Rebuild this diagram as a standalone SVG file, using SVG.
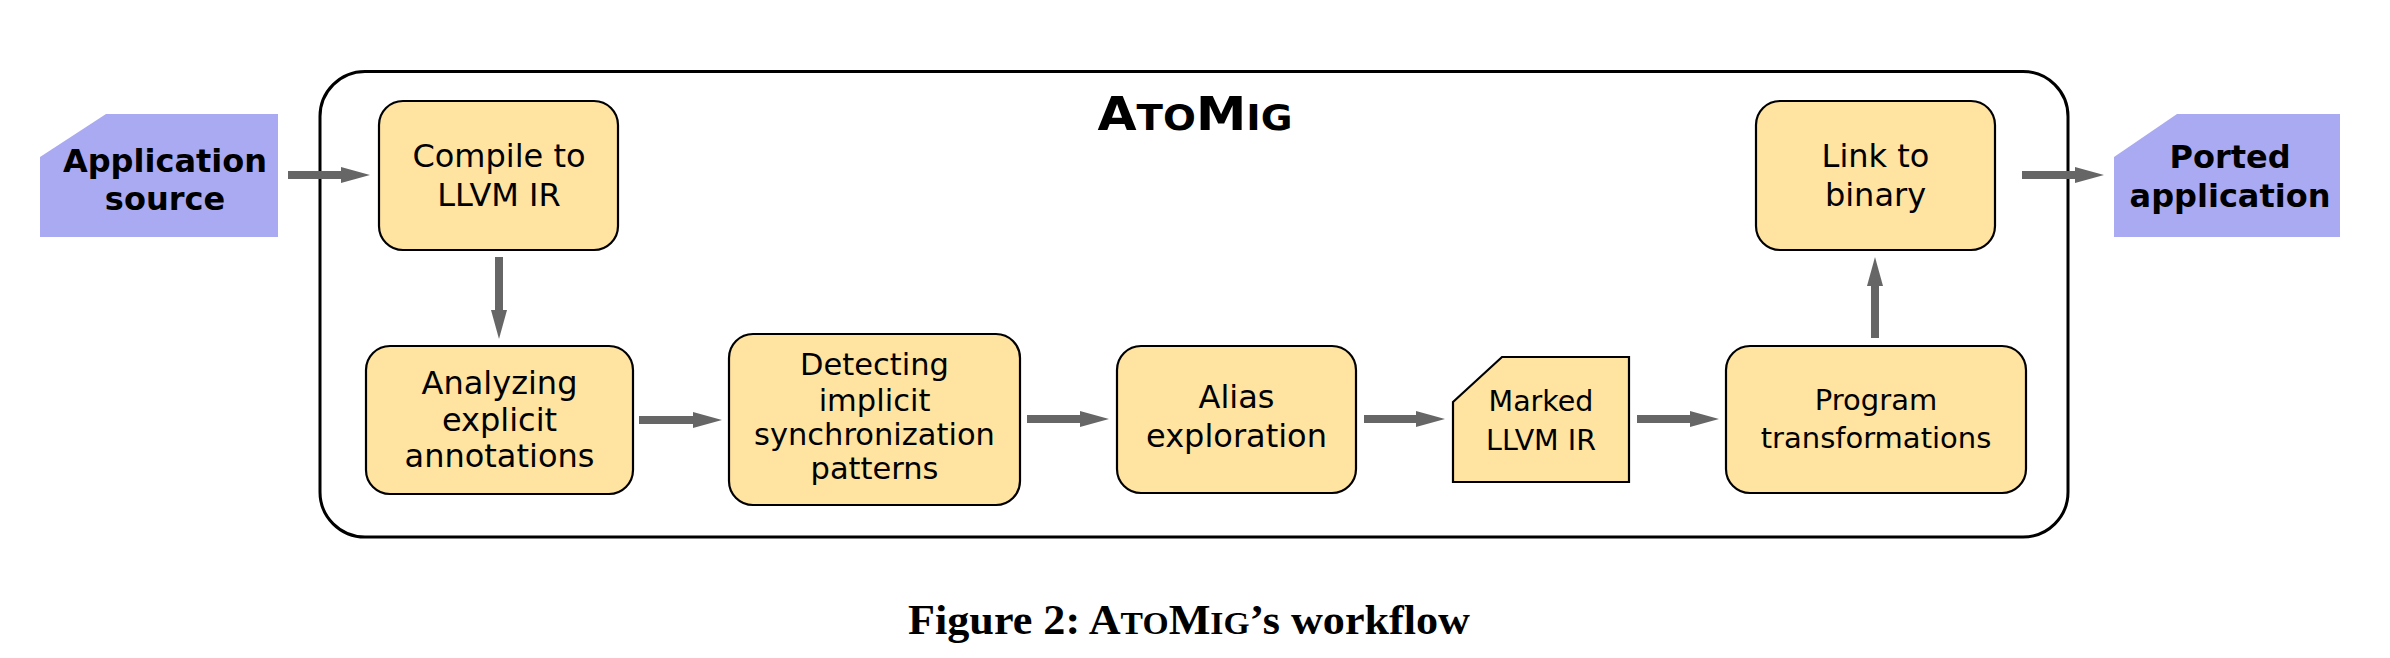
<svg xmlns="http://www.w3.org/2000/svg" width="2390" height="658" viewBox="0 0 2390 658">
<style>
  .box { fill: #FFE3A1; stroke: #000; stroke-width: 2.2; }
  .io { fill: #AAAAF2; stroke: none; }
  .t { font-family: "DejaVu Sans", "Liberation Sans", sans-serif; fill: #000; text-anchor: middle; }
  .tb { font-family: "DejaVu Sans", "Liberation Sans", sans-serif; font-weight: bold; fill: #000; text-anchor: middle; }
  .conn { stroke: #666; stroke-width: 8; fill: none; marker-end: url(#head); }
</style>
<defs>
  <marker id="head" markerUnits="userSpaceOnUse" markerWidth="30" markerHeight="18" refX="0" refY="8" orient="auto">
    <path d="M0,0 L29,8 L0,16 Z" fill="#666"/>
  </marker>
</defs>
<rect width="2390" height="658" fill="#fff"/>

<g id="container">
  <rect x="320" y="71.5" width="1748" height="465.5" rx="45" ry="45" fill="none" stroke="#000" stroke-width="3"/>
  <text class="tb" x="1195" y="130" font-size="47" textLength="195" lengthAdjust="spacingAndGlyphs">A<tspan font-size="36">TO</tspan>M<tspan font-size="36">IG</tspan></text>
</g>

<g id="connectors">
  <path class="conn" d="M288,175 L341,175"/>
  <path class="conn" d="M499,257 L499,310"/>
  <path class="conn" d="M639,420 L693,420"/>
  <path class="conn" d="M1027,419 L1080,419"/>
  <path class="conn" d="M1364,419 L1416,419"/>
  <path class="conn" d="M1637,419 L1690,419"/>
  <path class="conn" d="M1875,338 L1875,286"/>
  <path class="conn" d="M2022,175 L2075,175"/>
</g>

<g id="app-source">
  <polygon class="io" points="40,157 106,114 278,114 278,237 40,237"/>
  <text class="tb" font-size="32"><tspan x="165" y="172">Application</tspan><tspan x="165" y="210">source</tspan></text>
</g>

<g id="compile">
  <rect class="box" x="379" y="101" width="239" height="149" rx="24"/>
  <text class="t" font-size="32"><tspan x="499" y="167">Compile to</tspan><tspan x="499" y="206">LLVM IR</tspan></text>
</g>

<g id="analyzing">
  <rect class="box" x="366" y="346" width="267" height="148" rx="24"/>
  <text class="t" font-size="32"><tspan x="499.5" y="394">Analyzing</tspan><tspan x="499.5" y="431">explicit</tspan><tspan x="499.5" y="467">annotations</tspan></text>
</g>

<g id="detecting">
  <rect class="box" x="729" y="334" width="291" height="171" rx="24"/>
  <text class="t" font-size="30.5"><tspan x="874.5" y="375">Detecting</tspan><tspan x="874.5" y="411">implicit</tspan><tspan x="874.5" y="445">synchronization</tspan><tspan x="874.5" y="479">patterns</tspan></text>
</g>

<g id="alias">
  <rect class="box" x="1117" y="346" width="239" height="147" rx="24"/>
  <text class="t" font-size="32"><tspan x="1236.5" y="408">Alias</tspan><tspan x="1236.5" y="447">exploration</tspan></text>
</g>

<g id="marked">
  <polygon class="box" points="1453,402 1502,357 1629,357 1629,482 1453,482"/>
  <text class="t" font-size="28.5"><tspan x="1541" y="411">Marked</tspan><tspan x="1541" y="450">LLVM IR</tspan></text>
</g>

<g id="program">
  <rect class="box" x="1726" y="346" width="300" height="147" rx="24"/>
  <text class="t" font-size="29"><tspan x="1876" y="410">Program</tspan><tspan x="1876" y="448">transformations</tspan></text>
</g>

<g id="link">
  <rect class="box" x="1756" y="101" width="239" height="149" rx="24"/>
  <text class="t" font-size="32"><tspan x="1875.5" y="167">Link to</tspan><tspan x="1875.5" y="206">binary</tspan></text>
</g>

<g id="ported">
  <polygon class="io" points="2114,157 2177,114 2340,114 2340,237 2114,237"/>
  <text class="tb" font-size="32"><tspan x="2230" y="168">Ported</tspan><tspan x="2230" y="207">application</tspan></text>
</g>

<g id="caption">
  <text x="1189" y="634" font-family="'Liberation Serif', serif" font-weight="bold" font-size="42" text-anchor="middle" textLength="562" lengthAdjust="spacingAndGlyphs">Figure 2: A<tspan font-size="32">TO</tspan>M<tspan font-size="32">IG</tspan>’s workflow</text>
</g>
</svg>
